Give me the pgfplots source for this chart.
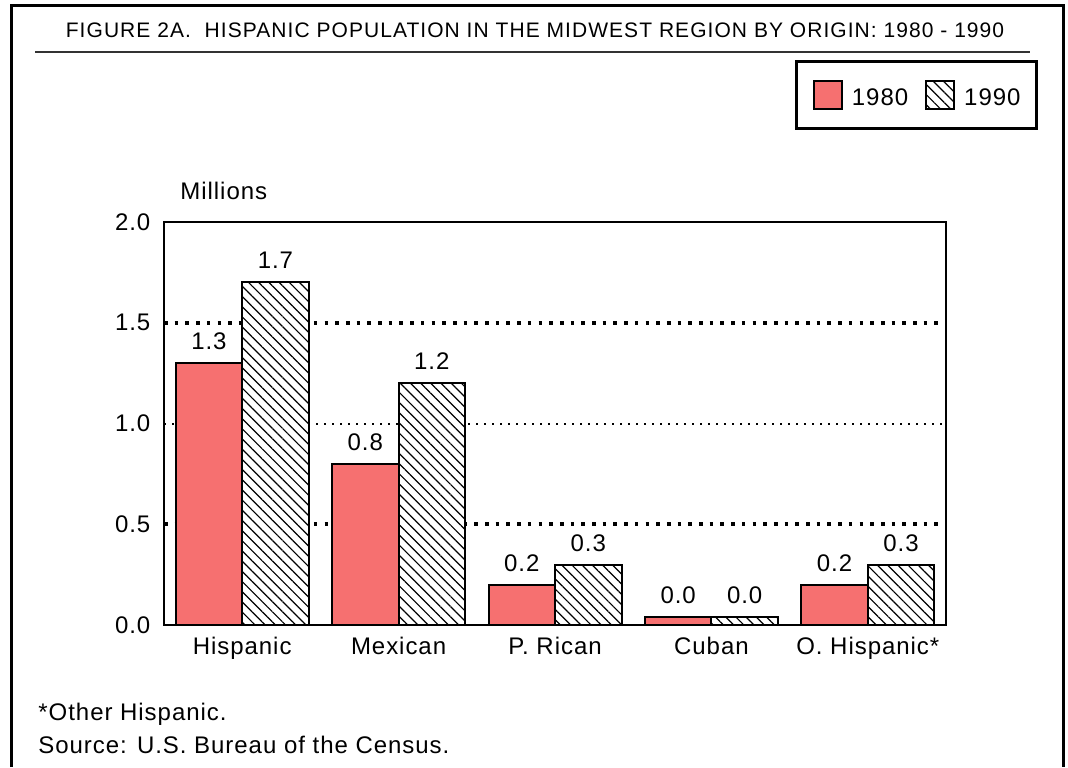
\documentclass[border=0pt]{standalone}
\usepackage{fontspec}
\setmainfont{Liberation Sans}[LetterSpace=4]
\newfontfamily\titlefont{Liberation Sans}[LetterSpace=5]
\usepackage{pgfplots}
\pgfplotsset{compat=1.18}
\usetikzlibrary{patterns.meta}

\definecolor{salmon80}{RGB}{246,112,112}

\pgfplotsset{
  sq legend/.style={legend image code/.code={\draw[##1] (0pt,-5pt) rectangle (14pt,9pt);}},
}

\newcommand{\bodyfont}{\fontsize{12}{14.4}\selectfont}

\begin{document}
\begin{tikzpicture}
\useasboundingbox (0,0) rectangle (534pt,383.5pt);
% frame and title
\draw[line width=1.5pt] (5.75pt,0) -- (5.75pt,380.75pt) -- (531.75pt,380.75pt) -- (531.75pt,0);
\node[font=\titlefont\fontsize{10.5}{12}\selectfont, inner sep=0pt] at (267.5pt,368.5pt)
  {FIGURE 2A.\ \ HISPANIC POPULATION IN THE MIDWEST REGION BY ORIGIN: 1980 - 1990};
\draw[line width=1pt, black!80] (17.5pt,357.5pt) -- (515pt,357.5pt);

\begin{axis}[
    at={(82pt,71pt)}, anchor=south west,
    width=391pt, height=201.5pt, scale only axis,
    xmin=-0.5, xmax=4.5, ymin=0, ymax=2,
    xtick={0,1,2,3,4},
    xticklabels={Hispanic,Mexican,P. Rican,Cuban,O. Hispanic*},
    % bold dotted grid at 0.5 and 1.5, fine dotted at 1.0
    ytick={0.5,1.5},
    extra y ticks={0,1,2},
    extra y tick style={major grid style={draw=black, line width=1pt, dash pattern=on 1pt off 3pt}},
    ymajorgrids,
    major grid style={draw=black, line width=1.8pt, dash pattern=on 1.8pt off 3.55pt},
    major tick length=0pt,
    axis line style={line width=1pt},
    /pgf/number format/fixed,
    /pgf/number format/fixed zerofill,
    /pgf/number format/precision=1,
    /pgf/number format/assume math mode=true,
    tick label style={font=\bodyfont},
    xticklabel style={yshift=-2.3pt},
    yticklabel style={xshift=-3.3pt},
    nodes near coords,
    every node near coord/.append style={anchor=base, inner sep=0pt, yshift=6.75pt, font=\bodyfont},
    legend style={at={(1.1176,1.402)}, anchor=north east, draw=black, line width=1.5pt,
      legend columns=2, font=\bodyfont, inner xsep=8pt, inner ysep=9.25pt,
      nodes={inner sep=0pt},
      /tikz/every odd column/.append style={column sep=4.5pt},
      /tikz/every even column/.append style={column sep=8.5pt}},
    clip=false,
]
\addplot[ybar, bar width=33.25pt, bar shift=-16.625pt, draw=black, line width=1pt,
  fill=salmon80, sq legend, nodes near coords style={xshift=-16.625pt}]
  coordinates {(0,1.3) (1,0.8) (2,0.2) (3,0.04) (4,0.2)};
\addlegendentry{1980}
\addplot[ybar, bar width=33.25pt, bar shift=16.625pt, draw=black, line width=1pt,
  preaction={fill=white}, pattern={Lines[angle=-45, distance=3.6pt, line width=0.6pt]}, sq legend,
  nodes near coords style={xshift=16.625pt}]
  coordinates {(0,1.7) (1,1.2) (2,0.3) (3,0.04) (4,0.3)};
\addlegendentry{1990}
\node[anchor=base west, inner sep=0pt, font=\bodyfont] at (rel axis cs:0.0205,1) [yshift=11.5pt] {Millions};
\end{axis}

% footnotes
\node[anchor=base west, inner sep=0pt, font=\bodyfont] at (19pt,23.5pt) {*Other Hispanic.};
\node[anchor=base west, inner sep=0pt, font=\bodyfont] at (19pt,7pt) {Source: U.S. Bureau of the Census.};
\end{tikzpicture}
\end{document}
